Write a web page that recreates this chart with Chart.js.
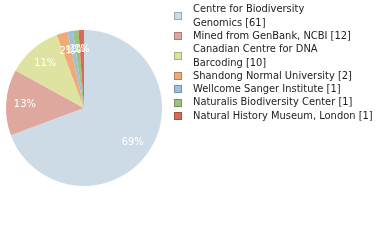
<!DOCTYPE html>
<html>
<head>
  <title>Institutions</title>
  <script src="https://cdn.jsdelivr.net/npm/chart.js"></script>
  <style>
    body { margin: 0; background: #fff; }
  </style>
</head>
<body>
  <canvas id="myChart" width="380" height="240"></canvas>
  <script>
    // data
    var names = ['Centre for Biodiversity Genomics', 'Mined from GenBank, NCBI', 'Canadian Centre for DNA Barcoding',
      'Shandong Normal University', 'Wellcome Sanger Institute', 'Naturalis Biodiversity Center', 'Natural History Museum, London'];
    var counts = [61, 12, 10, 2, 1, 1, 1];
    var colors = ['#cddbe7', '#dfa89e', '#dee3a2', '#f0aa75', '#9dbfe0', '#9dc47e', '#d96b55'];
    var borders = ['#99a6b0', '#a98078', '#a8ab7a', '#b58158', '#7690a8', '#76945f', '#a45140'];

    var FONT = '11px "DejaVu Sans Condensed", "DejaVu Sans", sans-serif';

    // percent labels on the slices (truncated, not rounded)
    var sliceLabels = {
      id: 'sliceLabels',
      afterDatasetsDraw: function(chart) {
        var c = chart.ctx;
        var total = counts.reduce(function(a, b) { return a + b; }, 0);
        c.save();
        c.font = FONT;
        c.fillStyle = '#fff';
        c.textAlign = 'center';
        c.textBaseline = 'middle';
        chart.getDatasetMeta(0).data.forEach(function(arc, i) {
          var p = arc.getProps(['x', 'y', 'startAngle', 'endAngle', 'outerRadius'], true);
          var mid = (p.startAngle + p.endAngle) / 2;
          var r = p.outerRadius * 0.76;
          var txt = Math.floor(counts[i] / total * 100) + '%';
          c.fillText(txt, p.x + Math.cos(mid) * r, p.y + Math.sin(mid) * r);
        });
        c.restore();
      }
    };

    // legend on the right, names over 30 characters wrap
    var sideLegend = {
      id: 'sideLegend',
      afterDraw: function(chart) {
        var c = chart.ctx;
        c.save();
        c.font = FONT;
        c.textBaseline = 'middle';
        var y = 9.5, lh = 13.3, maxChars = 30;
        names.forEach(function(n, i) {
          var lines = [], cur = '';
          n.split(' ').forEach(function(w) {
            var t = cur ? cur + ' ' + w : w;
            if (t.length > maxChars && cur) { lines.push(cur); cur = w; } else cur = t;
          });
          lines.push(cur + ' [' + counts[i] + ']');
          var yc = y + (lines.length - 1) * lh / 2;
          c.fillStyle = colors[i];
          c.fillRect(174.5, Math.round(yc) - 3.5, 7, 7);
          c.strokeStyle = borders[i];
          c.lineWidth = 1;
          c.strokeRect(174.5, Math.round(yc) - 3.5, 7, 7);
          c.fillStyle = '#222';
          lines.forEach(function(l, k) { c.fillText(l, 193, y + k * lh); });
          y += lines.length * lh;
        });
        c.restore();
      }
    };

    var ctx = document.getElementById('myChart').getContext('2d');
    var myChart = new Chart(ctx, {
      type: 'pie',
      data: {
        labels: names,
        datasets: [{
          data: counts,
          backgroundColor: colors,
          borderWidth: 0
        }]
      },
      options: {
        responsive: false,
        animation: false,
        layout: { padding: { left: 5, right: 217, top: 30, bottom: 54 } },
        plugins: {
          legend: { display: false },
          tooltip: { enabled: false }
        }
      },
      plugins: [sliceLabels, sideLegend]
    });
  </script>
</body>
</html>
